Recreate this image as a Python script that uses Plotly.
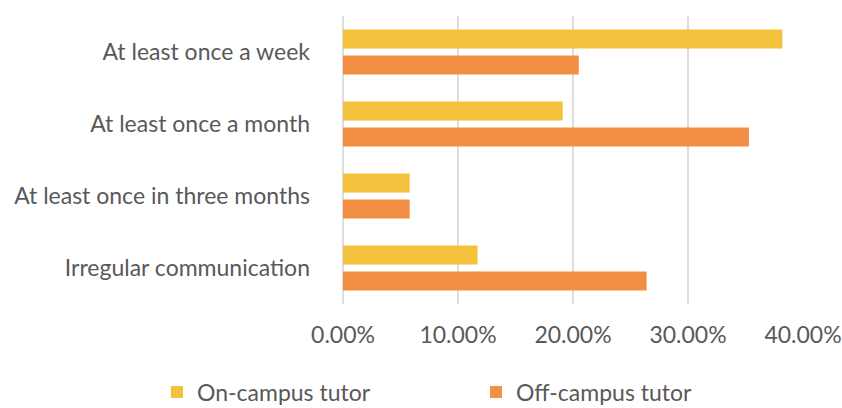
import plotly.graph_objects as go

categories = ["At least once a week", "At least once a month",
              "At least once in three months", "Irregular communication"]
on_campus = [0.382, 0.191, 0.058, 0.117]
off_campus = [0.205, 0.353, 0.058, 0.264]
series_names = ["On-campus tutor", "Off-campus tutor"]
colors = ["#F4C13D", "#F38F45"]
tick_vals = [0, 0.1, 0.2, 0.3, 0.4]

font_family = "Lato, 'Open Sans', sans-serif"
text_color = "#595959"
fs = 23

fig = go.Figure()
for name, vals, col in zip(series_names, [on_campus, off_campus], colors):
    fig.add_trace(go.Bar(
        y=categories, x=vals, name=name, orientation="h",
        marker=dict(color=col, line=dict(width=0)),
    ))

W, H = 842, 408
L, R, T, B = 343, 39, 16, 104
fig.update_layout(
    width=W, height=H,
    margin=dict(l=L, r=R, t=T, b=B, autoexpand=False),
    paper_bgcolor="white", plot_bgcolor="white",
    barmode="group", bargap=0.278, bargroupgap=0.27,
    font=dict(family=font_family, size=fs, color=text_color),
    showlegend=True,
    legend=dict(orientation="h", x=(157 - L) / (W - L - R), xanchor="left",
                y=-(392 - (H - B)) / (H - B - T), yanchor="middle",
                font=dict(size=fs, color=text_color), traceorder="normal",
                entrywidth=274, entrywidthmode="pixels"),
)
fig.update_xaxes(
    range=[0, 0.4], tickvals=tick_vals, tickformat=".2%",
    showgrid=True, gridcolor="#DDDDDD", gridwidth=2,
    zeroline=True, zerolinecolor="#DDDDDD", zerolinewidth=2,
    showline=False, ticks="", ticklabelstandoff=15,
    tickfont=dict(size=fs, color=text_color),
)
fig.update_yaxes(
    autorange="reversed", showgrid=False, zeroline=False, showline=False,
    ticks="", ticklabelstandoff=32,
    tickfont=dict(size=fs, color=text_color),
)

fig.write_html(
    "out.html",
    config={"displayModeBar": False},
    post_script="document.body.style.margin='0';document.body.style.overflow='hidden';",
)
